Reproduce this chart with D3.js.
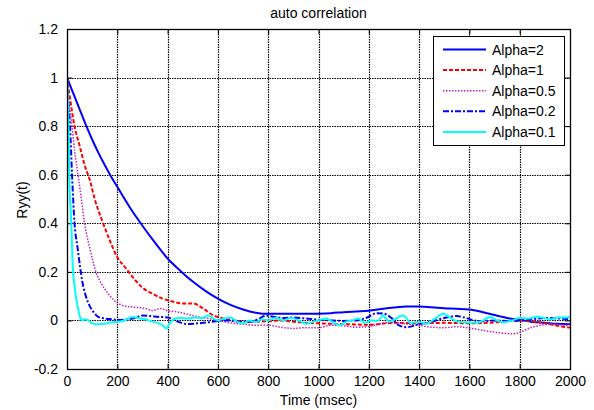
<!DOCTYPE html>
<html><head><meta charset="utf-8">
<script src="https://cdn.jsdelivr.net/npm/d3@7"></script>
<style>body{margin:0;background:#fff}svg{display:block}text{font-family:"Liberation Sans",Arial,sans-serif;fill:#000}</style>
</head><body><svg id="c" width="594" height="410"></svg>
<script>
const title = "auto correlation";
const xLabel = "Time (msec)";
const yLabel = "Ryy(t)";
const xTicks = [0,200,400,600,800,1000,1200,1400,1600,1800,2000];
const yTicks = [-0.2,0,0.2,0.4,0.6,0.8,1,1.2];
const seriesNames = ["Alpha=2","Alpha=1","Alpha=0.5","Alpha=0.2","Alpha=0.1"];

const tA2 = [0,25,50,75,100,125,150,175,200,250,300,350,400,450,500,550,600,650,700,750,800,850,900,950,1000,1050,1100,1150,1200,1250,1300,1350,1400,1450,1500,1550,1600,1650,1700,1750,1800,1850,1900,1950,2000];
const vA2 = [1,0.935,0.87,0.805,0.745,0.69,0.64,0.593,0.55,0.465,0.39,0.32,0.255,0.205,0.16,0.122,0.09,0.064,0.045,0.032,0.027,0.027,0.027,0.027,0.028,0.03,0.034,0.037,0.04,0.047,0.053,0.057,0.057,0.054,0.05,0.048,0.045,0.035,0.022,0.01,0.002,-0.006,-0.01,-0.014,-0.016];

const tA1 = [0,10,20,30,50,70,90,110,140,170,200,230,260,300,340,380,420,460,500,540,580,620,660,700,750,800,850,900,950,1000,1100,1200,1300,1400,1500,1600,1700,1800,1900,1950,2000];
const vA1 = [1,0.93,0.86,0.8,0.72,0.64,0.58,0.5,0.41,0.33,0.26,0.22,0.18,0.135,0.11,0.09,0.078,0.07,0.07,0.05,0.022,0.008,0.002,-0.005,-0.005,-0.003,0.0,-0.005,-0.01,-0.012,-0.015,-0.018,-0.01,-0.012,-0.01,-0.012,-0.008,0.0,-0.012,-0.022,-0.03];

const tA05 = [0,8,20,30,44,57,70,90,115,135,160,180,220,260,310,340,370,400,440,480,520,560,600,650,700,750,800,850,900,950,1000,1050,1100,1150,1200,1250,1300,1350,1400,1450,1500,1550,1620,1700,1774,1853,1932,1985,2000];
const vA05 = [1,0.9,0.8,0.7,0.6,0.5,0.4,0.3,0.2,0.155,0.115,0.09,0.062,0.055,0.05,0.041,0.049,0.04,0.035,0.025,0.015,0.008,0.0,-0.01,-0.015,-0.02,-0.02,-0.028,-0.033,-0.03,-0.03,-0.02,-0.022,-0.028,-0.025,-0.012,-0.008,-0.015,-0.02,-0.028,-0.03,-0.026,-0.035,-0.048,-0.055,-0.027,-0.015,-0.02,-0.015];

const tA02 = [0,5,12,20,30,42,52,60,75,90,105,126,150,180,210,240,270,300,330,360,400,440,480,520,560,600,640,680,720,760,790,820,860,900,950,1000,1050,1100,1150,1200,1230,1260,1290,1320,1350,1400,1450,1500,1550,1580,1620,1650,1700,1750,1800,1850,1900,1950,2000];
const vA02 = [1,0.9,0.8,0.6,0.4,0.3,0.22,0.165,0.1,0.06,0.035,0.014,0.008,0.005,0.002,0.005,0.01,0.02,0.018,0.015,0.012,-0.005,-0.015,-0.012,-0.008,-0.002,0.0,-0.005,-0.006,0.005,0.02,0.015,0.01,0.012,0.008,0.003,0.0,-0.002,0.0,0.015,0.03,0.028,0.01,-0.02,-0.028,-0.015,-0.005,0.01,0.018,0.012,0.0,-0.003,0.0,-0.002,0.0,0.005,0.01,0.008,0.005];

const tA01 = [0,4,9,17,23,30,40,53,60,70,85,100,125,150,175,200,230,258,290,314,340,360,380,395,410,425,450,480,510,540,560,580,600,625,650,675,700,725,750,775,800,830,860,890,920,953,980,1000,1030,1060,1085,1110,1135,1157,1185,1210,1235,1257,1280,1305,1331,1345,1366,1400,1430,1460,1496,1525,1550,1590,1629,1655,1682,1710,1735,1770,1801,1835,1868,1895,1922,1950,1988,2000];
const vA01 = [1,0.9,0.6,0.4,0.22,0.14,0.07,0.01,0.0,0.005,0.0,-0.012,-0.016,-0.014,-0.008,-0.005,0.0,0.014,0.008,0.004,-0.005,-0.01,-0.02,-0.033,-0.01,0.005,0.01,0.008,0.012,0.01,0.02,0.01,0.0,0.008,0.012,-0.005,-0.012,0.0,-0.008,0.005,0.0,0.01,0.0,0.01,0.0,-0.014,-0.005,0.0,0.008,-0.01,-0.02,-0.005,0.0,0.008,-0.01,0.0,-0.002,0.02,-0.005,0.005,0.02,0.015,-0.01,-0.005,-0.014,0.005,0.028,0.01,-0.004,-0.008,-0.01,0.0,0.014,0.0,-0.008,0.0,0.01,0.008,0.015,0.01,0.004,0.012,0.012,0.015];

const series = [
  {name: seriesNames[0], t: tA2, v: vA2, color: "#0000ff", width: 2, dash: null},
  {name: seriesNames[1], t: tA1, v: vA1, color: "#ff0000", width: 2, dash: "4,2"},
  {name: seriesNames[2], t: tA05, v: vA05, color: "#c020c0", width: 1.5, dash: "1.5,1.5"},
  {name: seriesNames[3], t: tA02, v: vA02, color: "#0000ff", width: 2, dash: "6,2,2,2"},
  {name: seriesNames[4], t: tA01, v: vA01, color: "#00ffff", width: 2, dash: null}
];

const svg = d3.select("#c");
const L = 67, R = 570, T = 29, B = 369;
const x = d3.scaleLinear().domain([0,2000]).range([L,R]);
const y = d3.scaleLinear().domain([-0.2,1.2]).range([B,T]);

// grid
const g = svg.append("g");
g.selectAll(".gx").data(xTicks.slice(1,-1)).join("line")
  .attr("x1",d=>Math.round(x(d))+0.5).attr("x2",d=>Math.round(x(d))+0.5).attr("y1",T).attr("y2",B)
  .attr("stroke","#000").attr("stroke-width",1.2).attr("stroke-dasharray","1.5,1");
g.selectAll(".gy").data(yTicks.slice(1,-1)).join("line")
  .attr("y1",d=>Math.round(y(d))+0.5).attr("y2",d=>Math.round(y(d))+0.5).attr("x1",L).attr("x2",R)
  .attr("stroke","#000").attr("stroke-width",1.2).attr("stroke-dasharray","1.5,1");

// axes
const xAxis = d3.axisBottom(x).tickValues(xTicks).tickFormat(d3.format("d")).tickSizeInner(-5).tickSizeOuter(0).tickPadding(7);
const yAxis = d3.axisLeft(y).tickValues(yTicks).tickFormat(d=>String(+d.toFixed(1))).tickSizeInner(-5).tickSizeOuter(0).tickPadding(9);
const xTop = d3.axisTop(x).tickValues(xTicks).tickFormat("").tickSizeInner(-5).tickSizeOuter(0);
const yRight = d3.axisRight(y).tickValues(yTicks).tickFormat("").tickSizeInner(-5).tickSizeOuter(0);
const styleAxis = sel => { sel.selectAll("path").remove(); sel.selectAll("line").attr("stroke","#000"); sel.selectAll("text").attr("font-size","14px").attr("font-family","Liberation Sans, Arial, sans-serif").attr("fill","#000"); };
svg.append("g").attr("transform",`translate(0,${B})`).call(xAxis).call(styleAxis);
svg.append("g").attr("transform",`translate(${L},0)`).call(yAxis).call(styleAxis);
svg.append("g").attr("transform",`translate(0,${T})`).call(xTop).call(styleAxis);
svg.append("g").attr("transform",`translate(${R},0)`).call(yRight).call(styleAxis);

// curves
svg.append("clipPath").attr("id","pc").append("rect").attr("x",L).attr("y",T).attr("width",R-L).attr("height",B-T);
const line = d3.line().x(d=>x(d[0])).y(d=>y(d[1])).curve(d3.curveMonotoneX);
const pg = svg.append("g").attr("clip-path","url(#pc)");
series.forEach(s => {
  const pts = s.t.map((t,i)=>[t, s.v[i]]);
  pg.append("path").attr("d", line(pts)).attr("fill","none")
    .attr("stroke", s.color).attr("stroke-width", s.width)
    .attr("stroke-dasharray", s.dash).attr("stroke-linejoin","round");
});

// frame
svg.append("rect").attr("x",L+0.5).attr("y",T+0.5).attr("width",R-L).attr("height",B-T)
  .attr("fill","none").attr("stroke","#000").attr("stroke-width",1.3);

// titles
svg.append("text").attr("x",(L+R)/2).attr("y",18).attr("text-anchor","middle").attr("font-size","14px").text(title);
svg.append("text").attr("x",(L+R)/2).attr("y",405).attr("text-anchor","middle").attr("font-size","14px").text(xLabel);
svg.append("text").attr("transform","translate(27,200) rotate(-90)").attr("text-anchor","middle").attr("font-size","14px").text(yLabel);

// legend
const lx0 = 433, ly0 = 36, lw = 131, lh = 109;
const lg = svg.append("g");
lg.append("rect").attr("x",lx0+0.5).attr("y",ly0+0.5).attr("width",lw).attr("height",lh).attr("fill","#fff").attr("stroke","#000").attr("stroke-width",1);
series.forEach((s,i) => {
  const yy = 49.5 + i*20.6;
  lg.append("line").attr("x1",443).attr("x2",486).attr("y1",yy).attr("y2",yy)
    .attr("stroke",s.color).attr("stroke-width",s.width).attr("stroke-dasharray",s.dash);
  lg.append("text").attr("x",492).attr("y",yy+5).attr("font-size","14px").text(s.name);
});
</script></body></html>
